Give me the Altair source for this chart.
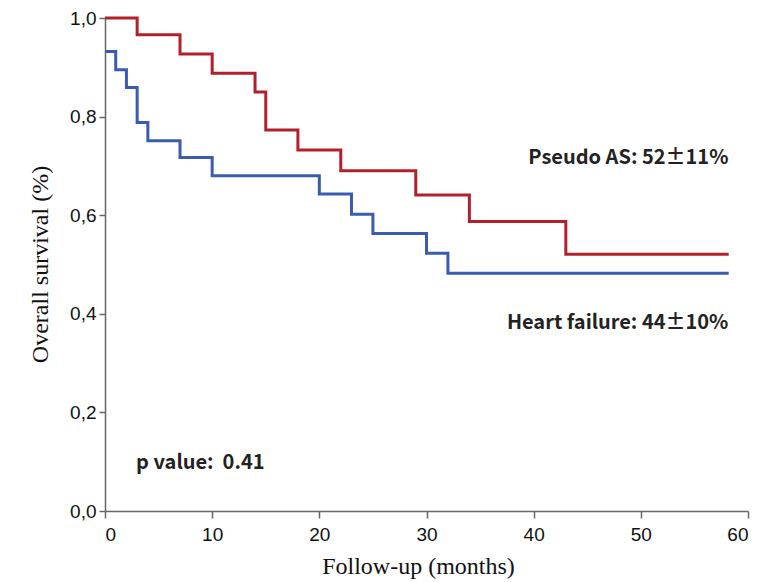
import altair as alt
import pandas as pd

# Kaplan-Meier steps
red_t = [0, 3, 7, 10, 14, 15, 18, 22, 29, 34, 43, 58.2]
red_s = [1.0, 0.966, 0.927, 0.888, 0.850, 0.773, 0.732, 0.690, 0.641, 0.587, 0.521, 0.521]
blue_t = [0, 1, 2, 3, 4, 7, 10, 20, 23, 25, 30, 32, 58.2]
blue_s = [0.932, 0.895, 0.859, 0.788, 0.751, 0.717, 0.680, 0.643, 0.602, 0.563, 0.523, 0.482, 0.482]

ann_text = ["Pseudo AS: 52\u00b111%", "Heart failure: 44\u00b110%", "p value:\u00a0 0.41"]
ann_x = [39.5, 37.5, 2.9]
ann_y = [0.716, 0.381, 0.097]

df = pd.concat([
    pd.DataFrame({"t": red_t, "s": red_s, "g": "Pseudo AS"}),
    pd.DataFrame({"t": blue_t, "s": blue_s, "g": "Heart failure"}),
])
ann = pd.DataFrame({"text": ann_text, "x": ann_x, "y": ann_y})

xscale = alt.Scale(domain=[0, 60], nice=False, zero=False)
yscale = alt.Scale(domain=[0, 1], nice=False)

lines = alt.Chart(df).mark_line(interpolate="step-after", strokeWidth=3).encode(
    x=alt.X("t:Q", scale=xscale,
            axis=alt.Axis(title="Follow-up (months)", values=[0, 10, 20, 30, 40, 50, 60],
                          grid=False, tickSize=7, labelPadding=7,
                          labelFont="Liberation Sans", labelFontSize=19, labelColor="#111",
                          domainColor="#666", tickColor="#666", domainWidth=1.5, tickWidth=1.5,
                          titleFont="Liberation Serif", titleFontSize=24, titleFontWeight="normal",
                          titleColor="#111", titleX=313, titleY=55, titleBaseline="middle")),
    y=alt.Y("s:Q", scale=yscale,
            axis=alt.Axis(title="Overall survival (%)", values=[0, 0.2, 0.4, 0.6, 0.8, 1.0],
                          labelExpr="replace(format(datum.value, '.1f'), '.', ',')",
                          grid=False, tickSize=6, labelPadding=3,
                          labelFont="Liberation Sans", labelFontSize=19, labelColor="#111",
                          domainColor="#666", tickColor="#666", domainWidth=1.5, tickWidth=1.5,
                          titleFont="Liberation Serif", titleFontSize=24, titleFontWeight="normal",
                          titleColor="#111", titleX=-65, titleY=246, titleBaseline="middle",
                          titleAlign="center")),
    color=alt.Color("g:N", scale=alt.Scale(domain=["Pseudo AS", "Heart failure"],
                                           range=["#b2202a", "#3a5cb0"]), legend=None),
    detail="g:N",
)

texts = alt.Chart(ann).mark_text(align="left", baseline="middle", font="Noto Sans CJK SC",
                                 fontWeight="bold", fontSize=20, color="#222").encode(
    x=alt.X("x:Q", scale=xscale),
    y=alt.Y("y:Q", scale=yscale),
    text="text:N",
)

chart = alt.layer(lines, texts).properties(
    width=643, height=493,
    autosize=alt.AutoSizeParams(type="none"),
    padding={"left": 97, "top": 10, "right": 10, "bottom": 70},
).configure(background="white").configure_view(stroke=None)

chart.save("out.html", embed_options={"renderer": "svg", "actions": False})
